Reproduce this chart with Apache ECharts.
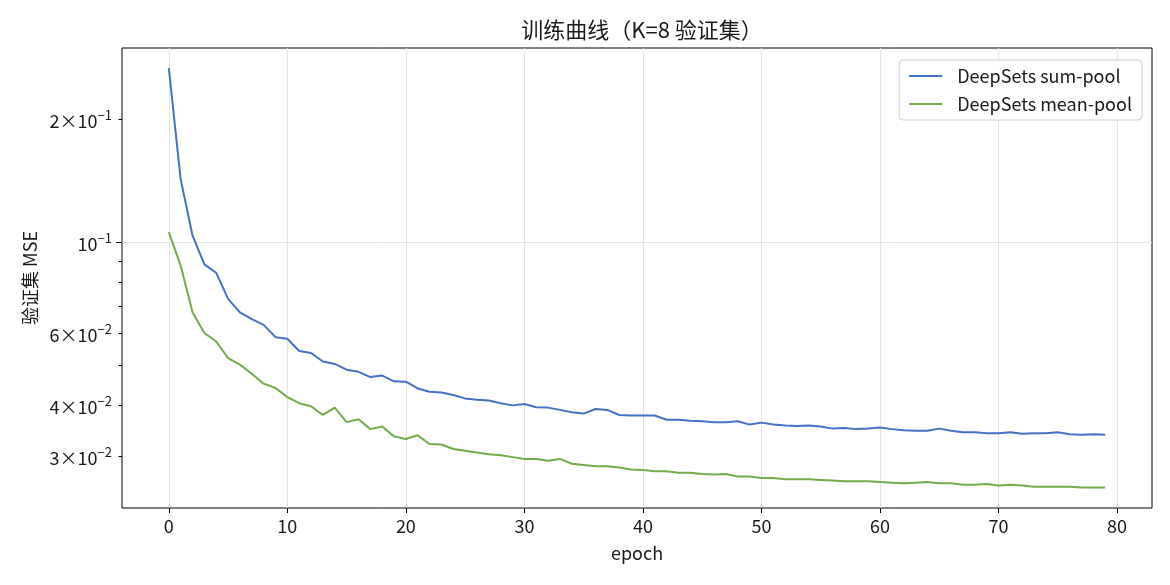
<!DOCTYPE html>
<html>
<head>
<meta charset="utf-8">
<script src="https://cdn.jsdelivr.net/npm/echarts@6/dist/echarts.min.js"></script>
<style>
  html, body { margin: 0; padding: 0; background: #fff; }
  #chart { width: 1170px; height: 585px; }
</style>
</head>
<body>
<div id="chart"></div>
<script>
const epochs = Array.from({ length: 80 }, (_, i) => i);

const sumPool = [
    0.2666, 0.1426, 0.1040, 0.0884, 0.0843, 0.0728, 0.0675, 0.0650, 0.0629, 0.0587,
    0.0582, 0.0543, 0.0537, 0.0512, 0.0505, 0.0489, 0.0483, 0.0469, 0.0473, 0.0458,
    0.0457, 0.0440, 0.0432, 0.0430, 0.0424, 0.0416, 0.0413, 0.0411, 0.0405, 0.0400,
    0.0403, 0.0396, 0.0395, 0.0390, 0.0385, 0.0382, 0.0392, 0.0390, 0.0379, 0.0378,
    0.0378, 0.0378, 0.0369, 0.0369, 0.0367, 0.0366, 0.0364, 0.0364, 0.0366, 0.0359,
    0.0363, 0.0359, 0.0357, 0.0356, 0.0357, 0.0355, 0.0351, 0.0352, 0.0350, 0.0351,
    0.0353, 0.0350, 0.0348, 0.0347, 0.0347, 0.0351, 0.0347, 0.0344, 0.0344, 0.0342,
    0.0342, 0.0344, 0.0341, 0.0342, 0.0342, 0.0344, 0.0340, 0.0339, 0.0340, 0.0339
];

const meanPool = [
    0.1060, 0.0878, 0.0675, 0.0601, 0.0573, 0.0522, 0.0503, 0.0478, 0.0452, 0.0441,
    0.0419, 0.0405, 0.0398, 0.0379, 0.0395, 0.0364, 0.0370, 0.0350, 0.0355, 0.0336,
    0.0331, 0.0338, 0.0322, 0.0321, 0.0313, 0.0310, 0.0307, 0.0304, 0.0302, 0.0299,
    0.0296, 0.0296, 0.0293, 0.0296, 0.0288, 0.0286, 0.0284, 0.0284, 0.0282, 0.0279,
    0.0278, 0.0276, 0.0276, 0.0274, 0.0274, 0.0272, 0.0271, 0.0272, 0.0268, 0.0268,
    0.0266, 0.0266, 0.0264, 0.0264, 0.0264, 0.0263, 0.0262, 0.0261, 0.0261, 0.0261,
    0.0260, 0.0259, 0.0258, 0.0259, 0.0260, 0.0258, 0.0258, 0.0256, 0.0256, 0.0257,
    0.0255, 0.0256, 0.0255, 0.0253, 0.0253, 0.0253, 0.0253, 0.0252, 0.0252, 0.0252
];

const xTicks = [0, 10, 20, 30, 40, 50, 60, 70, 80];
const yMinorTicks = [0.03, 0.04, 0.05, 0.06, 0.07, 0.08, 0.09, 0.2];
const yMajorTicks = [0.1];
const yLabelTicks = [0.03, 0.04, 0.06, 0.1, 0.2];
const yLabelText = { 0.03: ["3×10", "−2"], 0.04: ["4×10", "−2"], 0.06: ["6×10", "−2"], 0.1: ["10", "−1"], 0.2: ["2×10", "−1"] };

const FONT = '"Noto Sans CJK SC", "Noto Sans", sans-serif';
const INK = "#1a1a1a";
const BLUE = "#4472c4";
const GREEN = "#70ad47";

function pair(ys) {
    return epochs.map((e, i) => [e, ys[i]]);
}

const chart = echarts.init(document.getElementById("chart"), null, { renderer: "canvas" });

chart.setOption({
    animation: false,
    backgroundColor: "#fff",
    textStyle: { fontFamily: FONT, color: INK },
    title: {
        text: "训练曲线（K=8 验证集）",
        left: 637,
        textAlign: "center",
        top: 14,
        textStyle: { fontFamily: FONT, fontSize: 22, fontWeight: "normal", color: INK }
    },
    legend: {
        orient: "vertical",
        right: 28,
        top: 60,
        padding: [7, 10, 7, 10],
        itemGap: 10,
        itemWidth: 33,
        itemHeight: 2,
        icon: "rect",
        borderColor: "#d0d0d0",
        borderWidth: 1,
        borderRadius: 4,
        backgroundColor: "rgba(255,255,255,0.85)",
        textStyle: { fontFamily: FONT, fontSize: 18, color: INK, padding: [0, 0, 0, 10] },
        data: ["DeepSets sum-pool", "DeepSets mean-pool"]
    },
    grid: {
        left: 122,
        right: 18,
        top: 48,
        bottom: 77,
        show: true,
        borderColor: "#000",
        borderWidth: 1,
        backgroundColor: "transparent"
    },
    xAxis: {
        type: "value",
        min: -3.95,
        max: 82.95,
        name: "epoch",
        nameLocation: "middle",
        nameGap: 36,
        nameTextStyle: { fontFamily: FONT, fontSize: 18, color: INK },
        axisLine: { show: false, onZero: false },
        axisTick: { show: true, length: 5, customValues: xTicks, lineStyle: { color: "#000" } },
        axisLabel: { customValues: xTicks, fontSize: 18, margin: 9, color: INK, fontFamily: FONT },
        splitLine: { show: true, lineStyle: { color: "#e4e4e4", width: 1 } }
    },
    yAxis: [
        {
            type: "log",
            logBase: 10,
            min: 0.02246,
            max: 0.2985,
            name: "验证集 MSE",
            nameLocation: "middle",
            nameGap: 81,
            nameTextStyle: { fontFamily: FONT, fontSize: 18, color: INK },
            axisLine: { show: false, onZero: false },
            axisTick: { show: true, length: 3.5, customValues: yMinorTicks, lineStyle: { color: "#000" } },
            axisLabel: {
                customValues: yLabelTicks,
                margin: 10,
                formatter: (v) => {
                    const key = Object.keys(yLabelText).find((k) => Math.abs(parseFloat(k) - v) < 1e-6);
                    const t = yLabelText[key];
                    return t ? `{b|${t[0]}}{s|${t[1]}}` : "";
                },
                rich: {
                    b: { fontSize: 18, fontFamily: FONT, color: INK, lineHeight: 22, verticalAlign: "bottom" },
                    s: { fontSize: 13, fontFamily: FONT, color: INK, lineHeight: 13, verticalAlign: "top" }
                }
            },
            splitLine: { show: false }
        },
        {
            type: "log",
            logBase: 10,
            min: 0.02246,
            max: 0.2985,
            position: "left",
            axisLine: { show: false, onZero: false },
            axisTick: { show: true, length: 6, customValues: yMajorTicks, lineStyle: { color: "#000" } },
            axisLabel: { show: false },
            splitLine: { show: true, lineStyle: { color: "#e4e4e4", width: 1 } }
        }
    ],
    series: [
        {
            name: "DeepSets sum-pool",
            type: "line",
            data: pair(sumPool),
            symbol: "none",
            lineStyle: { color: BLUE, width: 2 },
            itemStyle: { color: BLUE },
            z: 3
        },
        {
            name: "DeepSets mean-pool",
            type: "line",
            data: pair(meanPool),
            symbol: "none",
            lineStyle: { color: GREEN, width: 2 },
            itemStyle: { color: GREEN },
            z: 3
        }
    ]
});
</script>
</body>
</html>
